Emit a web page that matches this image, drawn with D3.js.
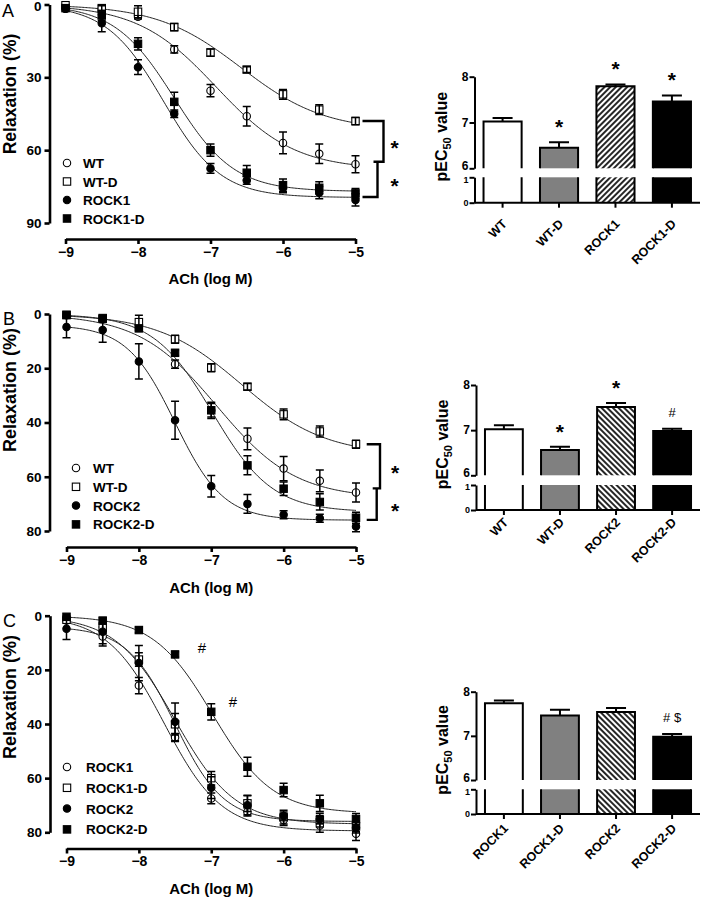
<!DOCTYPE html>
<html><head><meta charset="utf-8">
<script src="https://cdn.jsdelivr.net/npm/d3@7"></script>
<style>
body{margin:0;background:#fff}
svg{display:block}
text{font-family:"Liberation Sans",Arial,Helvetica,sans-serif;fill:#000}
</style>
</head><body>
<svg id="chart" width="701" height="899"></svg>
<script>
// ---------- DATA ----------
const doses = [-9, -8.5, -8, -7.5, -7, -6.5, -6, -5.5, -5];

const wtMean     = [0.5, 1.8, 5, 18.5, 35.5, 46, 57, 61.5, 65.8];
const wtSem      = [0.5, 0.8, 1, 1.5, 2.5, 4, 4.5, 4, 3.5];
const wtdMean    = [0.3, 1.5, 3, 9.3, 19.8, 26.8, 37, 43.3, 48];
const wtdSem     = [0.5, 1, 2.5, 1.5, 1.5, 1.2, 2, 2, 1.5];
const rock1Mean  = [1.8, 7.7, 25.8, 45, 67.5, 72.5, 75.5, 77.5, 80.5];
const rock1Sem   = [0.5, 3.5, 3, 1.5, 2, 1.5, 2, 2.5, 2.5];
const rock1dMean = [1.5, 4.5, 16.2, 40.1, 60, 69.3, 74.4, 75.5, 77.8];
const rock1dSem  = [0.5, 2, 2.5, 4, 2.5, 3, 2.5, 2.5, 2];
const rock2Mean  = [4.8, 5.9, 17.5, 39.2, 63.5, 70, 74, 75.3, 78.3];
const rock2Sem   = [4, 4.5, 6.5, 7, 4, 3.5, 1.5, 1.5, 2];
const rock2dMean = [0.4, 1.8, 5.3, 14.3, 35.5, 55.8, 64.4, 69.3, 75.1];
const rock2dSem  = [0.5, 1, 1, 1, 3, 3.5, 2.5, 3, 2];

// fitted sigmoid parameters: [baseline, plateau, logEC50, hill slope]
const wtFit     = [0, 68, -6.92, 0.8];
const wtdFit    = [0, 52, -6.58, 0.75];
const rock1Fit  = [0, 79.5, -7.65, 1.1];
const rock1dFit = [0, 77, -7.5, 1.05];
const rock2Fit  = [4, 76, -7.5, 1.3];
const rock2dFit = [0, 73, -6.98, 1.05];

const xTicks = [-9, -8, -7, -6, -5];
const yTicksA = [0, 30, 60, 90];
const yTicksBC = [0, 20, 40, 60, 80];

// bar charts (pEC50)
const barCatsA = ["WT", "WT-D", "ROCK1", "ROCK1-D"];
const barValsA = [7.02, 6.45, 7.79, 7.46];
const barErrA  = [0.08, 0.12, 0.04, 0.13];
const barMarkA = ["", "*", "*", "*"];

const barCatsB = ["WT", "WT-D", "ROCK2", "ROCK2-D"];
const barValsB = [7.02, 6.56, 7.51, 6.98];
const barErrB  = [0.09, 0.07, 0.09, 0.05];
const barMarkB = ["", "*", "*", "#"];

const barCatsC = ["ROCK1", "ROCK1-D", "ROCK2", "ROCK2-D"];
const barValsC = [7.74, 7.46, 7.54, 6.98];
const barErrC  = [0.06, 0.13, 0.09, 0.06];
const barMarkC = ["", "", "", "# $"];

const barTicksUpper = [6, 7, 8];
const barTicksLower = [0, 1];

// ---------- HELPERS ----------
const svg = d3.select("#chart");
const defs = svg.append("defs");
function hatch(id, angle) {
  const p = defs.append("pattern").attr("id", id).attr("patternUnits", "userSpaceOnUse")
    .attr("width", 4).attr("height", 4).attr("patternTransform", `rotate(${angle})`);
  p.append("rect").attr("width", 4).attr("height", 4).attr("fill", "#fff");
  p.append("line").attr("x1", 1).attr("y1", -1).attr("x2", 1).attr("y2", 5)
    .attr("stroke", "#000").attr("stroke-width", 1.7);
}
hatch("hatchF", 45);   // "/"
hatch("hatchB", -45);  // "\"

const fourPL = (p, x) => p[0] + (p[1] - p[0]) / (1 + Math.pow(10, (p[2] - x) * p[3]));

function marker(g, type, cx, cy) {
  const filled = type[0] === "f";
  if (type[1] === "c") {
    g.append("circle").attr("cx", cx).attr("cy", cy).attr("r", 3.7)
      .attr("fill", filled ? "#000" : "#fff").attr("stroke", "#000").attr("stroke-width", 1.1);
  } else {
    g.append("rect").attr("x", cx - 3.7).attr("y", cy - 3.7).attr("width", 7.4).attr("height", 7.4)
      .attr("fill", filled ? "#000" : "#fff").attr("stroke", "#000").attr("stroke-width", 1.1);
  }
}

function styleAxis(sel, w) {
  sel.select(".domain").attr("stroke", "#000").attr("stroke-width", w);
  sel.selectAll(".tick line").attr("stroke", "#000").attr("stroke-width", w);
  sel.selectAll(".tick text").attr("font-weight", "bold").attr("fill", "#000")
    .attr("font-family", '"Liberation Sans",Arial,sans-serif');
}

function linePanel(cfg) {
  const g = svg.append("g");
  const x = d3.scaleLinear().domain([-9, -5]).range(cfg.xRange);
  const y = d3.scaleLinear().domain(cfg.yDomain).range(cfg.yRange);

  const ya = g.append("g").attr("transform", `translate(${cfg.yAxisX},0)`)
    .call(d3.axisLeft(y).tickValues(cfg.yTicks).tickSize(5).tickSizeOuter(0).tickPadding(3).tickFormat(d3.format("d")));
  styleAxis(ya, 2.6);
  ya.selectAll(".tick text").attr("font-size", 13.5);
  if (cfg.nudgeTop) ya.selectAll(".tick text").filter(d => d === 0).attr("dy", "0.45em");

  const xa = g.append("g").attr("transform", `translate(0,${cfg.xAxisY})`)
    .call(d3.axisBottom(x).tickValues(xTicks).tickSize(5).tickSizeOuter(0).tickPadding(3).tickFormat(d3.format("d")));
  styleAxis(xa, 2.6);
  xa.selectAll(".tick text").attr("font-size", 14);

  g.append("text").attr("x", (cfg.xRange[0] + cfg.xRange[1]) / 2).attr("y", cfg.xLabelY)
    .attr("text-anchor", "middle").attr("font-weight", "bold").attr("font-size", 15).text("ACh (log M)");
  g.append("text").attr("transform", `translate(${cfg.yLabelX},${cfg.yLabelY}) rotate(-90)`)
    .attr("text-anchor", "middle").attr("font-weight", "bold").attr("font-size", cfg.yLabelSize).text("Relaxation (%)");
  g.append("text").attr("x", cfg.letterX).attr("y", cfg.letterY).attr("font-size", 18).text(cfg.letter);

  const line = d3.line().x(d => x(d[0])).y(d => y(d[1]));
  const xs = d3.range(0, 201).map(i => -9 + i * 0.02);
  cfg.series.forEach(s => {
    g.append("path").attr("d", line(xs.map(v => [v, fourPL(s.fit, v)])))
      .attr("fill", "none").attr("stroke", "#222").attr("stroke-width", 1);
  });
  cfg.series.forEach(s => {
    doses.forEach((d, i) => marker(g, s.type, x(d), y(s.mean[i])));
    doses.forEach((d, i) => {
      const cx = x(d), y1 = y(s.mean[i] - s.sem[i]), y2 = y(s.mean[i] + s.sem[i]);
      if (Math.abs(y2 - y1) < 4) return;
      g.append("path").attr("d", `M${cx},${y1}V${y2}M${cx - 4},${y1}H${cx + 4}M${cx - 4},${y2}H${cx + 4}`)
        .attr("stroke", "#000").attr("stroke-width", 1.5).attr("fill", "none");
    });
  });
  // legend
  cfg.series.forEach((s, i) => {
    const ly = cfg.legendY + i * cfg.legendStep;
    marker(g, s.type, cfg.legendX, ly);
    g.append("text").attr("x", cfg.legendX + cfg.legendTextDx).attr("y", ly + 5)
      .attr("font-weight", "bold").attr("font-size", 13.5).text(s.name);
  });
  // significance brackets
  if (cfg.bracket) {
    const b = cfg.bracket, x5 = x(-5);
    const yl = b.levels.map(v => y(v));
    g.append("path").attr("d", `M${x5 + b.h0},${yl[0]}H${x5 + b.v1}V${yl[1]}H${x5 + b.v2 - 4}M${x5 + b.v2},${yl[1]}V${yl[2]}H${x5 + b.h0}`)
      .attr("fill", "none").attr("stroke", "#000").attr("stroke-width", 2.4);
    g.append("text").attr("x", x5 + b.star).attr("y", (yl[0] + yl[1]) / 2 + 14).attr("text-anchor", "middle")
      .attr("font-size", 21).attr("font-weight", "bold").text("*");
    g.append("text").attr("x", x5 + b.star).attr("y", (yl[1] + yl[2]) / 2 + 14).attr("text-anchor", "middle")
      .attr("font-size", 21).attr("font-weight", "bold").text("*");
  }
  if (cfg.notes) {
    cfg.notes.forEach(n => g.append("text").attr("x", x(n[0])).attr("y", y(n[1]) + 5)
      .attr("text-anchor", "middle").attr("font-size", 15).attr("font-family", '"DejaVu Sans",sans-serif').text(n[2]));
  }
}

function barPanel(cfg) {
  const g = svg.append("g");
  const x = d3.scaleBand().domain(cfg.cats).range([cfg.axisX, 700]).paddingInner(0.325).paddingOuter(0.16);
  const yU = d3.scaleLinear().domain([6, 8]).range([cfg.y6, cfg.y8]);
  const yL = d3.scaleLinear().domain([0, 1]).range([cfg.y0, cfg.y1]);

  cfg.cats.forEach((c, i) => {
    const l = x(c), r = l + x.bandwidth(), top = yU(cfg.vals[i]);
    const fill = cfg.fills[i];
    g.append("rect").attr("x", l).attr("y", yL(1)).attr("width", r - l).attr("height", yL(0) - yL(1)).attr("fill", fill);
    g.append("rect").attr("x", l).attr("y", top).attr("width", r - l).attr("height", yU(6) - top).attr("fill", fill);
    g.append("path").attr("d", `M${l},${yL(1)}V${yL(0)}M${r},${yL(0)}V${yL(1)}M${l},${yU(6)}V${top}H${r}V${yU(6)}`)
      .attr("fill", "none").attr("stroke", "#000").attr("stroke-width", 2);
    const cx = l + x.bandwidth() / 2, et = yU(cfg.vals[i] + cfg.errs[i]);
    g.append("path").attr("d", `M${cx},${top}V${et}M${cx - 10},${et}H${cx + 10}`)
      .attr("stroke", "#000").attr("stroke-width", 2).attr("fill", "none");
    const m = cfg.marks[i];
    if (m === "*") {
      g.append("text").attr("x", cx).attr("y", et - 20 + 12).attr("text-anchor", "middle")
        .attr("font-size", 21).attr("font-weight", "bold").text(m);
    } else if (m) {
      g.append("text").attr("x", cx).attr("y", et - 17 + 5).attr("text-anchor", "middle")
        .attr("font-size", 13).attr("font-family", '"DejaVu Sans",sans-serif').text(m);
    }
  });

  const au = g.append("g").attr("transform", `translate(${cfg.axisX},0)`)
    .call(d3.axisLeft(yU).tickValues(barTicksUpper).tickSize(5).tickSizeOuter(0).tickPadding(1).tickFormat(d3.format("d")));
  styleAxis(au, 2);
  au.selectAll(".tick text").attr("font-size", 12);
  au.selectAll(".tick text").filter(d => d === 6).attr("dy", "0.1em");
  const al = g.append("g").attr("transform", `translate(${cfg.axisX},0)`)
    .call(d3.axisLeft(yL).tickValues(barTicksLower).tickSize(5).tickSizeOuter(0).tickPadding(1).tickFormat(d3.format("d")));
  styleAxis(al, 2);
  al.selectAll(".tick text").attr("font-size", 9);
  al.selectAll(".tick text").filter(d => d === 1).attr("dy", "0.55em");

  const xa = g.append("g").attr("transform", `translate(0,${cfg.y0})`)
    .call(d3.axisBottom(x).tickSize(5).tickSizeOuter(0).tickFormat(""));
  styleAxis(xa, 2);
  xa.select(".domain").attr("d", `M${cfg.axisX},0H700`);
  cfg.cats.forEach(c => {
    const cx = x(c) + x.bandwidth() / 2;
    g.append("text").attr("transform", `translate(${cx + 5},${cfg.y0 + cfg.labelDy}) rotate(-45)`)
      .attr("text-anchor", "end").attr("font-weight", "bold").attr("font-size", 12.5).text(c);
  });

  const t = g.append("text").attr("transform", `translate(${cfg.axisX - 28},${(cfg.y0 + cfg.y8) / 2 - 3}) rotate(-90)`)
    .attr("text-anchor", "middle").attr("font-weight", "bold").attr("font-size", 16);
  t.append("tspan").text("pEC");
  t.append("tspan").attr("font-size", 11).attr("dy", 4).text("50");
  t.append("tspan").attr("dy", -4).text(" value");
}

// ---------- PANELS ----------
const sWT     = {name: "WT",      type: "oc", mean: wtMean,     sem: wtSem,     fit: wtFit};
const sWTD    = {name: "WT-D",    type: "os", mean: wtdMean,    sem: wtdSem,    fit: wtdFit};
const sR1     = {name: "ROCK1",   type: "fc", mean: rock1Mean,  sem: rock1Sem,  fit: rock1Fit};
const sR1D    = {name: "ROCK1-D", type: "fs", mean: rock1dMean, sem: rock1dSem, fit: rock1dFit};
const sR2     = {name: "ROCK2",   type: "fc", mean: rock2Mean,  sem: rock2Sem,  fit: rock2Fit};
const sR2D    = {name: "ROCK2-D", type: "fs", mean: rock2dMean, sem: rock2dSem, fit: rock2dFit};

linePanel({
  letter: "A", letterX: 2, letterY: 17, nudgeTop: true,
  xRange: [65.5, 355.5], yDomain: [0, 90], yRange: [4.5, 223], yTicks: yTicksA,
  yAxisX: 49.5, xAxisY: 239, xLabelY: 284, yLabelX: 16, yLabelY: 94, yLabelSize: 17.5,
  series: [sWT, sWTD, sR1, sR1D],
  legendX: 67, legendTextDx: 16, legendY: 163, legendStep: 18.5,
  bracket: {levels: [48, 64.8, 79.3], h0: 7, v1: 28, v2: 22, star: 39}
});
linePanel({
  letter: "B", letterX: 3, letterY: 325,
  xRange: [66.5, 356], yDomain: [0, 80], yRange: [314, 531], yTicks: yTicksBC,
  yAxisX: 49.5, xAxisY: 547, xLabelY: 593, yLabelX: 16, yLabelY: 390, yLabelSize: 18,
  series: [sWT, sWTD, {...sR2, type: "fc"}, sR2D],
  legendX: 76, legendTextDx: 17, legendY: 468, legendStep: 18.8,
  bracket: {levels: [48, 64.3, 75.9], h0: 10.7, v1: 24, v2: 20.7, star: 39}
});
linePanel({
  letter: "C", letterX: 3, letterY: 627,
  xRange: [66.5, 356], yDomain: [0, 80], yRange: [615.7, 832.3], yTicks: yTicksBC,
  yAxisX: 50, xAxisY: 848.5, xLabelY: 894, yLabelX: 16, yLabelY: 697, yLabelSize: 18,
  series: [{...sR1, type: "oc"}, {...sR1D, type: "os"}, sR2, sR2D],
  legendX: 67, legendTextDx: 19, legendY: 767, legendStep: 20.8,
  notes: [[-7.13, 12, "#"], [-6.70, 31.8, "#"]]
});

barPanel({cats: barCatsA, vals: barValsA, errs: barErrA, marks: barMarkA,
  fills: ["#fff", "#808080", "url(#hatchF)", "#000"], labelDy: 22,
  axisX: 474.5, y8: 76.7, y6: 168.3, y1: 177.3, y0: 202.7});
barPanel({cats: barCatsB, vals: barValsB, errs: barErrB, marks: barMarkB,
  fills: ["#fff", "#808080", "url(#hatchB)", "#000"], labelDy: 13,
  axisX: 476, y8: 385, y6: 475.3, y1: 485, y0: 510});
barPanel({cats: barCatsC, vals: barValsC, errs: barErrC, marks: barMarkC,
  fills: ["#fff", "#808080", "url(#hatchB)", "#000"], labelDy: 15,
  axisX: 476, y8: 691.7, y6: 780, y1: 789.3, y0: 814});
</script>
</body></html>
